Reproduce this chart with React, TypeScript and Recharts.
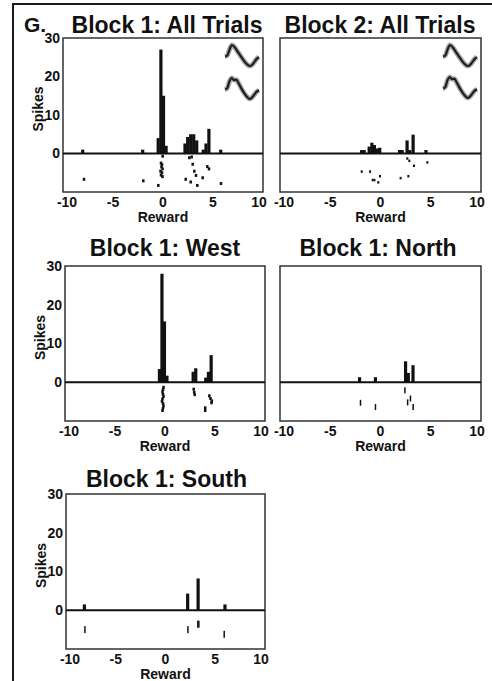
import React from 'react';
import {
  ComposedChart,
  LineChart,
  Line,
  Bar,
  Scatter,
  XAxis,
  YAxis,
  ReferenceLine,
  ReferenceArea,
} from 'recharts';

const FONT = '"Liberation Sans", Arial, Helvetica, sans-serif';

const REWARD_TICKS = [-10, -5, 0, 5, 10];
const SPIKE_TICKS = [0, 10, 20, 30];

// histogram bins: reward (bin centre) -> spike count
const B1_ALL_HIST = [
  { x: -8.0, n: 1 },
  { x: -2.0, n: 1 },
  { x: -0.45, n: 4 },
  { x: -0.18, n: 27 },
  { x: 0.08, n: 15 },
  { x: 0.34, n: 2 },
  { x: 2.23, n: 2.6 },
  { x: 2.5, n: 4.3 },
  { x: 2.8, n: 5 },
  { x: 3.1, n: 5 },
  { x: 3.4, n: 3.4 },
  { x: 4.05, n: 1 },
  { x: 4.33, n: 2.6 },
  { x: 4.62, n: 6.4 },
  { x: 5.8, n: 1 },
];

// raster marks below the zero line: reward, trial row
const B1_ALL_RASTER = [
  { x: -7.9, y: -6.7 },
  { x: -1.97, y: -7.1 },
  { x: -0.47, y: -8.3 },
  { x: -0.03, y: -0.7 },
  { x: -0.2, y: -2.5 },
  { x: -0.1, y: -2.9 },
  { x: -0.15, y: -3.5 },
  { x: -0.05, y: -4.0 },
  { x: -0.25, y: -4.6 },
  { x: -0.1, y: -5.0 },
  { x: -0.2, y: -5.6 },
  { x: -0.05, y: -6.0 },
  { x: 2.63, y: -1.1 },
  { x: 2.87, y: -0.9 },
  { x: 2.97, y: -2.8 },
  { x: 3.13, y: -4.6 },
  { x: 3.3, y: -5.7 },
  { x: 2.27, y: -6.7 },
  { x: 2.77, y: -7.4 },
  { x: 3.43, y: -8.3 },
  { x: 3.97, y: -6.3 },
  { x: 4.43, y: -3.4 },
  { x: 4.6, y: -4.0 },
  { x: 5.8, y: -7.8 },
];

const B2_ALL_HIST = [
  { x: -1.85, n: 0.9 },
  { x: -1.6, n: 0.9 },
  { x: -1.1, n: 1.8 },
  { x: -0.83, n: 2.8 },
  { x: -0.58, n: 2.2 },
  { x: -0.31, n: 1.3 },
  { x: -0.05, n: 1.5 },
  { x: 1.92, n: 0.9 },
  { x: 2.18, n: 0.9 },
  { x: 2.67, n: 3.4 },
  { x: 2.93, n: 0.9 },
  { x: 3.27, n: 4.9 },
  { x: 4.55, n: 0.9 },
];

const B2_ALL_RASTER = [
  { x: 2.67, y: -1.3 },
  { x: 2.87, y: -1.9 },
  { x: 3.33, y: -3.2 },
  { x: 4.66, y: -2.3 },
  { x: -1.87, y: -4.7 },
  { x: -1.04, y: -4.7 },
  { x: -0.05, y: -5.9 },
  { x: -0.78, y: -6.9 },
  { x: -0.6, y: -6.9 },
  { x: -0.22, y: -7.5 },
  { x: 2.0, y: -6.4 },
  { x: 2.77, y: -5.9 },
];

const B1_WEST_HIST = [
  { x: -0.53, n: 3.4 },
  { x: -0.28, n: 28 },
  { x: -0.03, n: 15.7 },
  { x: 0.22, n: 1.7 },
  { x: 2.84, n: 2.7 },
  { x: 3.1, n: 3.6 },
  { x: 4.1, n: 1.2 },
  { x: 4.37, n: 2.7 },
  { x: 4.64, n: 7 },
];

const B1_WEST_RASTER = [
  { x: -0.15, y: -1.3 },
  { x: -0.2, y: -1.9 },
  { x: -0.25, y: -2.5 },
  { x: -0.2, y: -3.1 },
  { x: -0.15, y: -3.7 },
  { x: -0.25, y: -4.3 },
  { x: -0.3, y: -4.9 },
  { x: -0.2, y: -5.5 },
  { x: -0.15, y: -6.1 },
  { x: -0.2, y: -6.7 },
  { x: -0.25, y: -7.3 },
  { x: 2.87, y: -1.8 },
  { x: 2.92, y: -2.6 },
  { x: 2.97, y: -3.2 },
  { x: 4.43, y: -3.5 },
  { x: 4.55, y: -4.2 },
  { x: 4.68, y: -4.8 },
  { x: 4.65, y: -5.3 },
  { x: 4.02, y: -6.6 },
  { x: 4.02, y: -7.3 },
];

const B1_NORTH_HIST = [
  { x: -2.05, n: 1.3 },
  { x: -0.47, n: 1.3 },
  { x: 2.53, n: 5.4 },
  { x: 2.8, n: 2.4 },
  { x: 3.27, n: 4.4 },
];

const B1_NORTH_RASTER = [
  { x: 2.43, y: -2.1 },
  { x: -1.99, y: -5.3 },
  { x: -0.5, y: -6.4 },
  { x: 2.98, y: -4.2 },
  { x: 2.7, y: -5.2 },
  { x: 3.25, y: -6.4 },
];

const B1_SOUTH_HIST = [
  { x: -8.13, n: 1.5 },
  { x: 2.25, n: 4.3 },
  { x: 3.3, n: 8.2 },
  { x: 6.0, n: 1.5 },
];

const B1_SOUTH_RASTER = [
  { x: -8.1, y: -5.0 },
  { x: 2.25, y: -5.0 },
  { x: 3.25, y: -3.6 },
  { x: 3.35, y: -3.6 },
  { x: 5.9, y: -6.2 },
];

// spike waveform insets (normalised amplitude)
const WAVE_TOP = [0.45, 0.5, 0.78, 1.0, 0.93, 0.78, 0.62, 0.46, 0.3, 0.16, 0.05, 0.0, 0.06, 0.2, 0.34, 0.42];
const WAVE_BOTTOM = [0.45, 0.52, 0.85, 1.0, 0.9, 0.92, 0.75, 0.55, 0.36, 0.2, 0.07, 0.0, 0.08, 0.22, 0.35, 0.42];

const YW = 50;
const MT = 10;
const MR = 4;
const XH = 34;

const tickFont = { fontSize: 14, fontWeight: 'bold', fill: '#111', fontFamily: FONT };

function RewardTick(props: any) {
  const { x, y, payload } = props;
  const v = payload.value;
  const shift = v === -10 ? 4 : v === 10 ? -4 : 0;
  return (
    <text x={x + shift} y={y} dy={10.5} textAnchor="middle" {...tickFont}>
      {v}
    </text>
  );
}

function makeMark(w: number, h: number) {
  return (props: any) => (
    <rect x={props.cx - w / 2} y={props.cy - h / 2} width={w} height={h} fill="#111" />
  );
}

// histogram bars at a fixed pixel width, centred on recharts' own bar slot
function makeBin(w: number) {
  return (props: any) => {
    const { x, y, width, height } = props;
    if (!height) return <g />;
    return <rect x={x + width / 2 - w / 2} y={y} width={w} height={height} fill="#111" />;
  };
}

function Wave({ values, left, top }: { values: number[]; left: number; top: number }) {
  const data = values.map((v, i) => ({ i, v }));
  return (
    <div style={{ position: 'absolute', left, top }}>
      <LineChart width={38} height={27} data={data} margin={{ top: 3, right: 2, bottom: 3, left: 2 }}>
        <XAxis dataKey="i" hide />
        <YAxis hide domain={[0, 1]} />
        <Line type="monotone" dataKey="v" stroke="#a8a8a8" strokeWidth={5} dot={false} isAnimationActive={false} />
        <Line type="monotone" dataKey="v" stroke="#1e1e1e" strokeWidth={2.2} dot={false} isAnimationActive={false} />
      </LineChart>
    </div>
  );
}

interface PanelProps {
  title: string;
  left: number;
  top: number;
  w: number;
  h: number;
  titleX: number;
  titleY: number;
  yLabels: boolean;
  hist: { x: number; n: number }[];
  raster: { x: number; y: number }[];
  markW: number;
  markH: number;
  binW: number;
}

function Panel({ title, left, top, w, h, titleX, titleY, yLabels, hist, raster, markW, markH, binW }: PanelProps) {
  return (
    <>
      <div
        style={{
          position: 'absolute',
          left: titleX - 150,
          top: titleY - 11.5,
          width: 300,
          textAlign: 'center',
          fontFamily: FONT,
          fontWeight: 'bold',
          fontSize: 23,
          lineHeight: '23px',
          color: '#111',
          whiteSpace: 'nowrap',
        }}
      >
        {title}
      </div>
      <div style={{ position: 'absolute', left: left - YW, top: top - MT }}>
        <ComposedChart
          width={YW + w + MR}
          height={MT + h + XH}
          data={hist}
          margin={{ top: MT, right: MR, bottom: 0, left: 0 }}
        >
          <XAxis
            dataKey="x"
            type="number"
            domain={[-10, 10]}
            ticks={REWARD_TICKS}
            interval={0}
            allowDataOverflow
            axisLine={false}
            tickLine={false}
            tickSize={2}
            tickMargin={2}
            height={XH}
            tick={<RewardTick />}
            label={{
              value: 'Reward',
              position: 'insideBottom',
              offset: 4,
              style: { ...tickFont },
            }}
          />
          <XAxis xAxisId="r" dataKey="x" type="number" domain={[-10, 10]} allowDataOverflow hide />
          <YAxis
            type="number"
            domain={[-10, 30]}
            ticks={SPIKE_TICKS}
            interval={0}
            allowDataOverflow
            axisLine={false}
            tickLine={false}
            tickSize={1}
            tickMargin={2}
            width={YW}
            tick={yLabels ? tickFont : false}
            label={
              yLabels
                ? { value: 'Spikes', angle: -90, position: 'center', dy: -6, style: { ...tickFont } }
                : undefined
            }
          />
          <Bar dataKey="n" fill="#111" barSize={2} shape={makeBin(binW)} isAnimationActive={false} />
          <ReferenceLine y={0} stroke="#111" strokeWidth={2} />
          <Scatter
            xAxisId="r"
            data={raster}
            dataKey="y"
            shape={makeMark(markW, markH)}
            isAnimationActive={false}
          />
          <ReferenceArea x1={-10} x2={10} y1={-10} y2={30} fill="none" stroke="#333" strokeWidth={1.5} />
        </ComposedChart>
      </div>
    </>
  );
}

export default function App() {
  return (
    <div
      style={{
        position: 'absolute',
        left: 0,
        top: 0,
        width: 492,
        height: 681,
        overflow: 'hidden',
        background: '#fff',
      }}
    >
      <div
        style={{
          position: 'absolute',
          left: 12,
          top: 3,
          width: 700,
          height: 900,
          border: '2.5px solid #1a1a1a',
        }}
      />
      <div
        style={{
          position: 'absolute',
          left: 24,
          top: 13,
          fontFamily: FONT,
          fontWeight: 'bold',
          fontSize: 21,
          lineHeight: '23px',
          color: '#111',
        }}
      >
        G.
      </div>

      <Panel
        title="Block 1: All Trials"
        left={63}
        top={38}
        w={200}
        h={154}
        titleX={167}
        titleY={25}
        yLabels
        hist={B1_ALL_HIST}
        raster={B1_ALL_RASTER}
        markW={2.5}
        markH={3}
        binW={3.2}
      />
      <Panel
        title="Block 2: All Trials"
        left={280}
        top={38}
        w={201}
        h={154}
        titleX={380}
        titleY={25}
        yLabels={false}
        hist={B2_ALL_HIST}
        raster={B2_ALL_RASTER}
        markW={2}
        markH={2.5}
        binW={3.2}
      />
      <Panel
        title="Block 1: West"
        left={65}
        top={266}
        w={200}
        h={155}
        titleX={165}
        titleY={248.5}
        yLabels
        hist={B1_WEST_HIST}
        raster={B1_WEST_RASTER}
        markW={2.5}
        markH={3}
        binW={3.2}
      />
      <Panel
        title="Block 1: North"
        left={280}
        top={266}
        w={201}
        h={155}
        titleX={378}
        titleY={248.5}
        yLabels={false}
        hist={B1_NORTH_HIST}
        raster={B1_NORTH_RASTER}
        markW={1.5}
        markH={6}
        binW={3.2}
      />
      <Panel
        title="Block 1: South"
        left={66}
        top={494}
        w={199}
        h={155}
        titleX={166.5}
        titleY={479.5}
        yLabels
        hist={B1_SOUTH_HIST}
        raster={B1_SOUTH_RASTER}
        markW={1.5}
        markH={7}
        binW={3.2}
      />

      <Wave values={WAVE_TOP} left={223} top={42} />
      <Wave values={WAVE_BOTTOM} left={223} top={75} />
      <Wave values={WAVE_TOP} left={441} top={42} />
      <Wave values={WAVE_BOTTOM} left={441} top={74} />
    </div>
  );
}
